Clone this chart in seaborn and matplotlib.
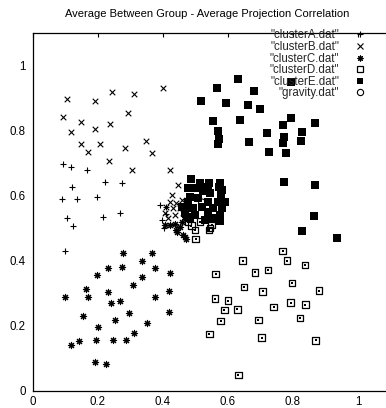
import numpy as np
import pandas as pd
import matplotlib
matplotlib.use("Agg")
import matplotlib.pyplot as plt
import seaborn as sns
from matplotlib.lines import Line2D

sns.set_theme(style="white")
plt.rcParams["font.family"] = ["Liberation Sans", "DejaVu Sans"]

title = "Average Between Group - Average Projection Correlation"
labels = ['"clusterA.dat"', '"clusterB.dat"', '"clusterC.dat"',
          '"clusterD.dat"', '"clusterE.dat"', '"gravity.dat"']
xticks = [0, 0.2, 0.4, 0.6, 0.8, 1]
xticklabels = ["0", "0.2", "0.4", "0.6", "0.8", "1"]
yticks = [0, 0.2, 0.4, 0.6, 0.8, 1]
yticklabels = ["0", "0.2", "0.4", "0.6", "0.8", "1"]

a_x = [0.094, 0.119, 0.166, 0.222, 0.274, 0.120, 0.089, 0.135, 0.199, 0.106,
       0.215, 0.268, 0.123, 0.099, 0.391, 0.410, 0.410, 0.399, 0.405]
a_y = [0.698, 0.687, 0.679, 0.641, 0.638, 0.628, 0.590, 0.589, 0.595, 0.530,
       0.535, 0.546, 0.507, 0.430, 0.571, 0.564, 0.544, 0.525, 0.500]

b_x = [0.104, 0.193, 0.245, 0.310, 0.401, 0.092, 0.292, 0.150, 0.237, 0.193,
       0.117, 0.148, 0.206, 0.347, 0.284, 0.170, 0.368, 0.236, 0.304, 0.422,
       0.447, 0.427, 0.422, 0.442, 0.411, 0.432, 0.458, 0.453, 0.406, 0.437,
       0.417, 0.463]
b_y = [0.898, 0.890, 0.920, 0.914, 0.931, 0.841, 0.854, 0.827, 0.821, 0.804,
       0.796, 0.760, 0.760, 0.769, 0.747, 0.734, 0.732, 0.706, 0.678, 0.679,
       0.633, 0.602, 0.582, 0.579, 0.566, 0.561, 0.587, 0.561, 0.546, 0.541,
       0.530, 0.546]

c_x = [0.278, 0.367, 0.336, 0.230, 0.274, 0.377, 0.197, 0.336, 0.423, 0.309,
       0.164, 0.231, 0.419, 0.100, 0.170, 0.377, 0.240, 0.268, 0.296, 0.419,
       0.156, 0.253, 0.352, 0.200, 0.311, 0.141, 0.194, 0.247, 0.288, 0.118,
       0.191, 0.224, 0.445, 0.469, 0.406, 0.422, 0.437, 0.442, 0.453, 0.458,
       0.468, 0.463, 0.471]
c_y = [0.423, 0.425, 0.400, 0.378, 0.382, 0.378, 0.357, 0.351, 0.363, 0.325,
       0.313, 0.303, 0.307, 0.287, 0.287, 0.289, 0.270, 0.277, 0.239, 0.241,
       0.230, 0.218, 0.207, 0.196, 0.179, 0.154, 0.155, 0.155, 0.155, 0.141,
       0.089, 0.082, 0.489, 0.472, 0.510, 0.510, 0.513, 0.494, 0.505, 0.520,
       0.535, 0.479, 0.467]

d_x = [0.768, 0.645, 0.782, 0.837, 0.562, 0.684, 0.724, 0.797, 0.650, 0.707,
       0.880, 0.561, 0.601, 0.793, 0.838, 0.589, 0.629, 0.741, 0.822, 0.578,
       0.694, 0.543, 0.704, 0.870, 0.632, 0.501, 0.542, 0.478, 0.488, 0.499,
       0.514, 0.545, 0.550, 0.473]
d_y = [0.430, 0.400, 0.400, 0.387, 0.359, 0.364, 0.372, 0.332, 0.319, 0.306,
       0.308, 0.283, 0.277, 0.271, 0.265, 0.248, 0.250, 0.258, 0.223, 0.215,
       0.217, 0.174, 0.163, 0.155, 0.048, 0.467, 0.494, 0.520, 0.508, 0.494,
       0.520, 0.500, 0.510, 0.537]

e_x = [0.630, 0.793, 0.568, 0.679, 0.516, 0.593, 0.661, 0.699, 0.793, 0.553,
       0.638, 0.869, 0.771, 0.571, 0.719, 0.829, 0.774, 0.569, 0.666, 0.771,
       0.824, 0.728, 0.780, 0.773, 0.868, 0.865, 0.829, 0.935, 0.572,
       0.488, 0.514, 0.542, 0.575, 0.573, 0.478, 0.499, 0.524, 0.545, 0.578,
       0.483, 0.509, 0.478, 0.539, 0.570, 0.591, 0.473, 0.494, 0.519, 0.555,
       0.581, 0.468, 0.499, 0.539, 0.575, 0.483, 0.550, 0.575, 0.529, 0.458,
       0.539, 0.581]
e_y = [0.959, 0.951, 0.932, 0.923, 0.892, 0.884, 0.880, 0.868, 0.840, 0.831,
       0.834, 0.823, 0.818, 0.799, 0.794, 0.797, 0.782, 0.758, 0.766, 0.763,
       0.769, 0.735, 0.731, 0.643, 0.634, 0.538, 0.492, 0.471, 0.775,
       0.650, 0.640, 0.638, 0.638, 0.626, 0.623, 0.623, 0.613, 0.607, 0.602,
       0.597, 0.592, 0.582, 0.582, 0.582, 0.582, 0.566, 0.561, 0.566, 0.561,
       0.561, 0.546, 0.541, 0.551, 0.541, 0.530, 0.530, 0.523, 0.525, 0.566,
       0.628, 0.617]

g_x = [0.52]
g_y = [0.58]

W, H = 386, 408
DPI = 100
fig = plt.figure(figsize=(W / DPI, H / DPI), dpi=DPI)
ax = fig.add_axes([32.7 / W, (H - 390.7) / H, (390.5 - 32.7) / W, (390.7 - 33.2) / H])
ax.set_facecolor("white")

lw = 0.8
sns.scatterplot(x=a_x, y=a_y, marker="+", s=22, color="black", linewidth=lw, ax=ax)
sns.scatterplot(x=b_x, y=b_y, marker="x", s=16, color="black", linewidth=lw, ax=ax)
sns.scatterplot(x=c_x, y=c_y, marker=(8, 2, 0), s=20, color="black", linewidth=lw, ax=ax)
sns.scatterplot(x=d_x, y=d_y, marker="s", s=22, color="black", facecolor="none",
                edgecolor="black", linewidth=0.9, ax=ax)
sns.scatterplot(x=d_x, y=d_y, marker="s", s=1.5, color="black", linewidth=0, ax=ax)
sns.scatterplot(x=e_x, y=e_y, marker="s", s=26, color="black", edgecolor="black",
                linewidth=0, ax=ax)
sns.scatterplot(x=g_x, y=g_y, marker="o", s=22, color="black", facecolor="none",
                edgecolor="black", linewidth=0.8, ax=ax)

ax.set_xlim(0, 1.1)
ax.set_ylim(0, 1.1)
ax.set_xticks(xticks)
ax.set_xticklabels(xticklabels)
ax.set_yticks(yticks)
ax.set_yticklabels(yticklabels)
ax.tick_params(direction="in", length=3.2, width=0.8, color="black",
               top=True, right=True, labelsize=8.3, labelcolor="black")
ax.tick_params(axis="x", pad=3.5)
ax.tick_params(axis="y", pad=5)
for sp in ax.spines.values():
    sp.set_color("black")
    sp.set_linewidth(0.9)
    sp.set_visible(True)

fig.text(207 / W, 1 - 14 / H, title, ha="center", va="center", fontsize=8, color="black")

handles = [
    Line2D([], [], ls="none", marker="+", ms=4.5, mew=lw, color="black"),
    Line2D([], [], ls="none", marker="x", ms=3.8, mew=lw, color="black"),
    Line2D([], [], ls="none", marker=(8, 2, 0), ms=4.2, mew=lw, color="black"),
    Line2D([], [], ls="none", marker="s", ms=4.4, mew=0.9, mfc="none", color="black"),
    Line2D([], [], ls="none", marker="s", ms=4.8, mew=0, color="black"),
    Line2D([], [], ls="none", marker="o", ms=4.5, mew=0.8, mfc="none", color="black"),
]
leg = ax.legend(handles, labels, loc="upper right", markerfirst=False, frameon=False,
                fontsize=8.3, handlelength=0.8, handletextpad=1.4, labelspacing=-0.04,
                borderpad=0, borderaxespad=0,
                bbox_to_anchor=((364.5 - 32.7) / (390.5 - 32.7), 1 - (29.5 - 33.2) / (390.7 - 33.2)))

fig.savefig("out.png", dpi=DPI)
